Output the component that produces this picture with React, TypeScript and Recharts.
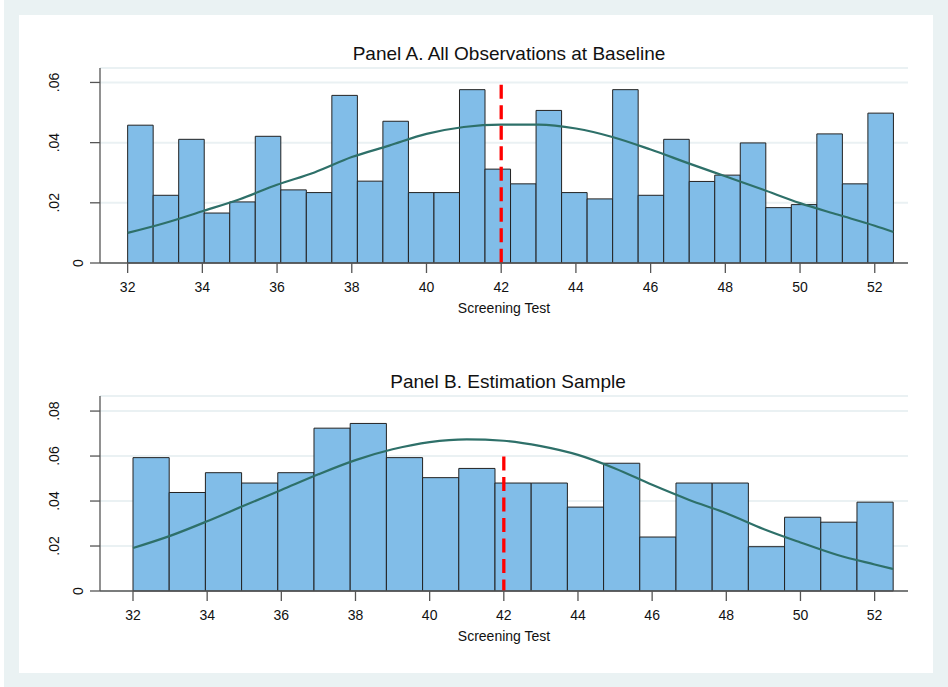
import { ComposedChart, Line, XAxis, YAxis, CartesianGrid, ReferenceArea, ReferenceLine } from 'recharts';

// Panel A: 30 bins from 32 to 52.5
const binsA = [
  0.0458, 0.0225, 0.0411, 0.0166, 0.0203, 0.0421, 0.0243, 0.0234, 0.0557, 0.0272,
  0.0471, 0.0234, 0.0234, 0.0576, 0.0312, 0.0263, 0.0507, 0.0234, 0.0213, 0.0576,
  0.0225, 0.0411, 0.0271, 0.0292, 0.0399, 0.0184, 0.0194, 0.0429, 0.0263, 0.0498,
];

// Panel B: 21 bins from 32 to 52.5
const binsB = [
  0.0593, 0.0438, 0.0526, 0.048, 0.0526, 0.0724, 0.0745, 0.0593, 0.0504, 0.0545,
  0.048, 0.048, 0.0373, 0.0568, 0.024, 0.048, 0.048, 0.0197, 0.0328, 0.0306, 0.0395,
];

const BIN_START = 32;
const BIN_END = 52.5;

const curveA = [
  { x: 32, y: 0.01 }, { x: 33, y: 0.0133 }, { x: 34, y: 0.0172 }, { x: 35, y: 0.0212 },
  { x: 36, y: 0.026 }, { x: 37, y: 0.0301 }, { x: 38, y: 0.0352 }, { x: 39, y: 0.039 },
  { x: 40, y: 0.0429 }, { x: 41, y: 0.0452 }, { x: 42, y: 0.046 }, { x: 43, y: 0.046 },
  { x: 44, y: 0.0447 }, { x: 45, y: 0.0418 }, { x: 46, y: 0.0377 }, { x: 47, y: 0.0332 },
  { x: 48, y: 0.0288 }, { x: 49, y: 0.0244 }, { x: 50, y: 0.0199 }, { x: 51, y: 0.0161 },
  { x: 52, y: 0.0124 }, { x: 52.5, y: 0.0103 },
];

const curveB = [
  { x: 32, y: 0.0191 }, { x: 33, y: 0.0245 }, { x: 34, y: 0.031 }, { x: 35, y: 0.038 },
  { x: 36, y: 0.0449 }, { x: 37, y: 0.0519 }, { x: 38, y: 0.0582 }, { x: 39, y: 0.063 },
  { x: 40, y: 0.0662 }, { x: 41, y: 0.0674 }, { x: 42, y: 0.0668 }, { x: 43, y: 0.0644 },
  { x: 44, y: 0.0605 }, { x: 45, y: 0.0545 }, { x: 46, y: 0.0472 }, { x: 47, y: 0.0405 },
  { x: 48, y: 0.0346 }, { x: 49, y: 0.0276 }, { x: 50, y: 0.0216 }, { x: 51, y: 0.016 },
  { x: 52, y: 0.0118 }, { x: 52.5, y: 0.0098 },
];

const xTicks = [32, 34, 36, 38, 40, 42, 44, 46, 48, 50, 52];
const yTicksA = [0, 0.02, 0.04, 0.06];
const yTicksB = [0, 0.02, 0.04, 0.06, 0.08];

const CUTOFF = 42;

const FONT = '"Liberation Sans", Arial, Helvetica, sans-serif';
const AXIS = '#555555';
const BAR_FILL = '#81bde8';
const BAR_STROKE = '#222222';
const CURVE = '#2e7069';
const GRID = '#eaf1f3';

const fmtY = (v: number) => (v === 0 ? '0' : v.toFixed(2).replace(/^0/, ''));

function XTick(props: any) {
  const { x, y, payload } = props;
  return (
    <text x={x} y={y} dy={17} textAnchor="middle" fontFamily={FONT} fontSize={14} fill="#111">
      {payload.value}
    </text>
  );
}

function YTick(props: any) {
  const { x, y, payload } = props;
  const bx = payload.value === 0 ? x - 7 : x - 31;
  return (
    <text
      x={bx}
      y={y}
      transform={`rotate(-90 ${bx} ${y})`}
      textAnchor="middle"
      fontFamily={FONT}
      fontSize={14}
      fill="#111"
    >
      {fmtY(payload.value)}
    </text>
  );
}

interface PanelProps {
  bins: number[];
  curve: { x: number; y: number }[];
  xDomain: [number, number];
  yDomain: [number, number];
  yTicks: number[];
  cutoffTop: number;
  height: number;
  margin: { top: number; right: number; left: number; bottom: number };
}

function Panel({ bins, curve, xDomain, yDomain, yTicks, cutoffTop, height, margin }: PanelProps) {
  const w = (BIN_END - BIN_START) / bins.length;
  return (
    <ComposedChart width={948} height={height} margin={margin} data={curve}>
      <CartesianGrid vertical={false} stroke={GRID} strokeWidth={2} />
      <XAxis
        type="number"
        dataKey="x"
        domain={xDomain}
        allowDataOverflow
        ticks={xTicks}
        tickSize={10}
        tickMargin={2}
        height={50}
        stroke={AXIS}
        strokeWidth={1.3}
        tick={<XTick />}
        label={{ value: 'Screening Test', position: 'insideBottom', offset: 0, fontFamily: FONT, fontSize: 14, fill: '#111' }}
      />
      <YAxis
        type="number"
        domain={yDomain}
        allowDataOverflow
        ticks={yTicks}
        tickSize={10}
        tickMargin={0}
        width={60}
        stroke={AXIS}
        strokeWidth={1.3}
        tick={<YTick />}
      />
      {bins.map((v, i) => (
        <ReferenceArea
          key={i}
          x1={BIN_START + i * w}
          x2={BIN_START + (i + 1) * w}
          y1={0}
          y2={v}
          fill={BAR_FILL}
          fillOpacity={1}
          stroke={BAR_STROKE}
          strokeWidth={1}
        />
      ))}
      <Line
        data={curve}
        dataKey="y"
        type="monotone"
        stroke={CURVE}
        strokeWidth={2.2}
        dot={false}
        activeDot={false}
        isAnimationActive={false}
      />
      <ReferenceLine
        segment={[{ x: CUTOFF, y: cutoffTop }, { x: CUTOFF, y: 0 }]}
        stroke="#ff0000"
        strokeWidth={3.3}
        strokeDasharray="14 6.5"
      />
    </ComposedChart>
  );
}

export default function App() {
  return (
    <div style={{ position: 'absolute', left: 0, top: 0, width: 948, height: 687, background: '#fff' }}>
      <div style={{ position: 'absolute', left: 4, top: 0, width: 944, height: 687, background: '#eaf2f3' }} />
      <div style={{ position: 'absolute', left: 19, top: 15, width: 914, height: 658, background: '#fff' }} />
      <div style={{ position: 'absolute', left: 0, top: 0 }}>
        <Panel
          bins={binsA}
          curve={curveA}
          xDomain={[31.26, 52.89]}
          yDomain={[0, 0.0648]}
          yTicks={yTicksA}
          cutoffTop={0.0592}
          height={330}
          margin={{ top: 68, right: 40, left: 40, bottom: 17 }}
        />
      </div>
      <div style={{ position: 'absolute', left: 0, top: 330 }}>
        <Panel
          bins={binsB}
          curve={curveB}
          xDomain={[31.11, 52.9]}
          yDomain={[0, 0.0867]}
          yTicks={yTicksB}
          cutoffTop={0.0598}
          height={357}
          margin={{ top: 66, right: 40, left: 40, bottom: 46 }}
        />
      </div>
      <svg width={948} height={687} style={{ position: 'absolute', left: 0, top: 0, pointerEvents: 'none' }}>
        <text x={509} y={60} textAnchor="middle" fontFamily={FONT} fontSize={19} fill="#111">
          Panel A. All Observations at Baseline
        </text>
        <text x={508} y={388} textAnchor="middle" fontFamily={FONT} fontSize={19} fill="#111">
          Panel B. Estimation Sample
        </text>
      </svg>
    </div>
  );
}
